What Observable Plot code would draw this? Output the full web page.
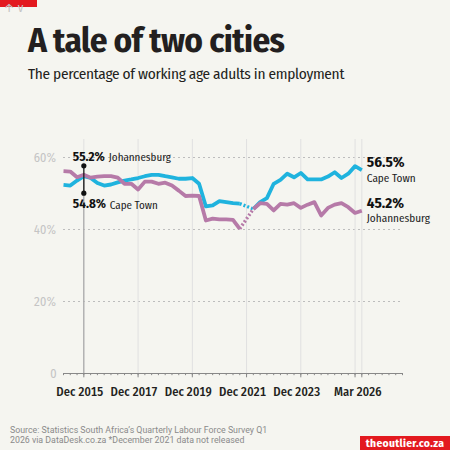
<!DOCTYPE html>
<html>
<head>
<meta charset="utf-8">
<script src="https://cdn.jsdelivr.net/npm/d3@7"></script>
<script src="https://cdn.jsdelivr.net/npm/@observablehq/plot@0.6"></script>
<style>
  html, body { margin: 0; padding: 0; }
  body {
    width: 450px; height: 450px; background: #f5f5f0; position: relative; overflow: hidden;
    font-family: "Fira Sans Condensed", "Roboto Condensed", Roboto, sans-serif;
  }
  #chart { position: absolute; left: 0; top: 0; }
  .bar { position: absolute; left: 0; top: 0; width: 37px; height: 7px; background: #e3191f; }
  h1 { position: absolute; left: 28px; top: 19px; margin: 0; font-size: 35px; font-weight: 700; color: #231f20; letter-spacing: -0.6px; line-height: 1.2; white-space: nowrap; }
  .sub { position: absolute; left: 28px; top: 65px; margin: 0; font-size: 15.3px; letter-spacing: -0.3px; color: #231f20; line-height: 1.2; white-space: nowrap; }
  .src { position: absolute; left: 10px; top: 425px; font-family: Roboto, sans-serif; font-size: 8.8px; line-height: 10px; color: #8a8a8a; white-space: nowrap; }
  .badge { position: absolute; left: 360px; top: 436px; width: 90px; height: 14px; background: #e3191f; overflow: hidden; }
  .badge span { display: block; color: #fff; font-weight: 700; font-size: 11.5px; letter-spacing: 0.3px; line-height: 14px; text-align: center; white-space: nowrap; }
</style>
</head>
<body>
<div class="bar"></div>
<h1>A tale of two cities</h1>
<p class="sub">The percentage of working age adults in employment</p>
<div id="chart"></div>
<div class="src">Source: Statistics South Africa’s Quarterly Labour Force Survey Q1<br>2026 via DataDesk.co.za *December 2021 data not released</div>
<div class="badge"><span>theoutlier.co.za</span></div>
<script>
// Quarterly survey periods, Mar 2015 to Mar 2026 (index 0 = Mar 2015)
const firstYear = 2015;
const quarterMonths = ["Mar", "Jun", "Sep", "Dec"];

// Employment share (%) of working age adults; null = Dec 2021, not released
const capeTown = [
  52.4, 52.2, 53.6, 54.8, 54.3, 52.9, 52.2, 52.5, 53.1, 53.6, 53.9, 54.3,
  54.8, 55.2, 55.2, 54.8, 54.5, 54.1, 54.1, 54.3, 52.7, 46.4, 46.7, 47.9,
  47.6, 47.3, 47.2, null, 45.7, 47.6, 48.7, 52.7, 53.8, 55.5, 54.5, 55.7,
  53.9, 53.9, 53.9, 54.7, 55.9, 54.3, 55.5, 57.6, 56.5
];
const johannesburg = [
  56.2, 56.1, 54.5, 55.2, 54.4, 54.7, 54.8, 54.8, 54.4, 52.7, 52.7, 51.1,
  53.3, 53.3, 52.7, 53.0, 52.2, 50.8, 49.3, 49.4, 49.3, 42.5, 43.0, 42.8,
  42.8, 42.7, 40.2, null, 45.7, 47.3, 47.1, 45.3, 47.1, 46.9, 47.3, 46.0,
  46.9, 47.6, 43.9, 46.0, 46.9, 47.3, 46.2, 44.6, 45.2
];

// Labelled x ticks (every second December, plus the latest quarter)
const majorTicks = ["Dec 2015", "Dec 2017", "Dec 2019", "Dec 2021", "Dec 2023", "Dec 2025", "Mar 2026"];
const shownTicks = ["Dec 2015", "Dec 2017", "Dec 2019", "Dec 2021", "Dec 2023", "Mar 2026"];
const yTicks = [0, 20, 40, 60];
const highlighted = "Dec 2015";

const quarterLabel = i => `${quarterMonths[i % 4]} ${firstYear + Math.floor(i / 4)}`;
const quarterIndex = label => {
  const [m, y] = label.split(" ");
  return (+y - firstYear) * 4 + quarterMonths.indexOf(m);
};

const series = [
  {city: "Cape Town", values: capeTown, color: "#1fb3de"},
  {city: "Johannesburg", values: johannesburg, color: "#b67aa8"}
];

const rows = series.flatMap(s => s.values.map((v, i) => ({city: s.city, i, v: v ?? NaN})));

// Bridge across the missing quarter with a dotted segment
const bridges = series.flatMap(s => {
  const gap = s.values.indexOf(null);
  return [
    {city: s.city, i: gap - 1, v: s.values[gap - 1]},
    {city: s.city, i: gap + 1, v: s.values[gap + 1]}
  ];
});

const hi = quarterIndex(highlighted);
const ctHi = capeTown[hi], jbHi = johannesburg[hi];
const last = capeTown.length - 1;
const latest = [
  {city: "Cape Town", i: last, v: capeTown[last]},
  {city: "Johannesburg", i: last, v: johannesburg[last]}
];

const font = '"Fira Sans Condensed", "Roboto Condensed", Roboto, sans-serif';

const chart = Plot.plot({
  width: 450,
  height: 450,
  marginLeft: 63,
  marginRight: 48,
  marginTop: 139,
  marginBottom: 77,
  style: {background: "transparent", fontFamily: font},
  x: {domain: [0, 50]},
  y: {domain: [0, 65]},
  color: {domain: series.map(s => s.city), range: series.map(s => s.color)},
  marks: [
    Plot.gridY(yTicks.filter(d => d > 0), {stroke: "#bdbdbd", strokeOpacity: 1, strokeDasharray: "2,3"}),
    Plot.gridX(majorTicks.map(quarterIndex), {stroke: "#e0e0e0", strokeOpacity: 1}),
    // darker guide below the highlighted quarter
    Plot.ruleX([hi], {y1: 0, y2: ctHi, stroke: "#9a9a9a"}),
    Plot.ruleY([0], {stroke: "#888"}),
    // minor quarter ticks
    Plot.ruleX(d3.range(0, 51), {y1: 0, y2: -0.6, stroke: "#888"}),
    Plot.ruleX(majorTicks.map(quarterIndex), {y1: 0, y2: -1.2, stroke: "#888"}),
    Plot.axisY(yTicks, {
      tickSize: 0, tickPadding: 7, fontSize: 12.5, fill: "#c4c4c4",
      tickFormat: d => d === 0 ? "0" : `${d}%`
    }),
    Plot.axisX(shownTicks.map(quarterIndex), {
      tickSize: 0, tickPadding: 14, fontSize: 12.5, fontWeight: 500, fill: "#231f20",
      dx: -4, tickFormat: quarterLabel
    }),
    Plot.line(bridges, {x: "i", y: "v", z: "city", stroke: "city", strokeWidth: 3.4, strokeDasharray: "2,2", strokeLinecap: "butt"}),
    Plot.line(rows, {x: "i", y: "v", z: "city", stroke: "city", strokeWidth: 3.8, strokeLinecap: "butt"}),
    // highlighted quarter annotation
    Plot.ruleX([hi], {y1: jbHi, y2: ctHi, insetTop: -9, insetBottom: -17, stroke: "#111", strokeWidth: 1.2}),
    Plot.dot([{i: hi, v: jbHi}], {x: "i", y: "v", r: 2.6, fill: "#111", dy: -9}),
    Plot.dot([{i: hi, v: ctHi}], {x: "i", y: "v", r: 2.6, fill: "#111", dy: 17}),
    Plot.text([{i: hi, v: jbHi}], {x: "i", y: "v", text: d => `${d.v.toFixed(1)}%`, fontWeight: 700, fontSize: 13, fill: "#111", textAnchor: "start", dx: -11, dy: -18}),
    Plot.text([{i: hi, v: jbHi}], {x: "i", y: "v", text: () => "Johannesburg", fontSize: 11, fill: "#222", textAnchor: "start", dx: 25, dy: -17}),
    Plot.text([{i: hi, v: ctHi}], {x: "i", y: "v", text: d => `${d.v.toFixed(1)}%`, fontWeight: 700, fontSize: 13, fill: "#111", textAnchor: "start", dx: -11, dy: 28}),
    Plot.text([{i: hi, v: ctHi}], {x: "i", y: "v", text: () => "Cape Town", fontSize: 11, fill: "#222", textAnchor: "start", dx: 26, dy: 29}),
    // latest values at the line ends
    Plot.text(latest, {x: "i", y: "v", text: d => `${d.v.toFixed(1)}%`, fontWeight: 700, fontSize: 15, fill: "#111", textAnchor: "start", dx: 5, dy: -7.5}),
    Plot.text(latest, {x: "i", y: "v", text: "city", fontSize: 11.2, fill: "#222", textAnchor: "start", dx: 5, dy: 8})
  ]
});
document.getElementById("chart").appendChild(chart);
</script>
</body>
</html>
